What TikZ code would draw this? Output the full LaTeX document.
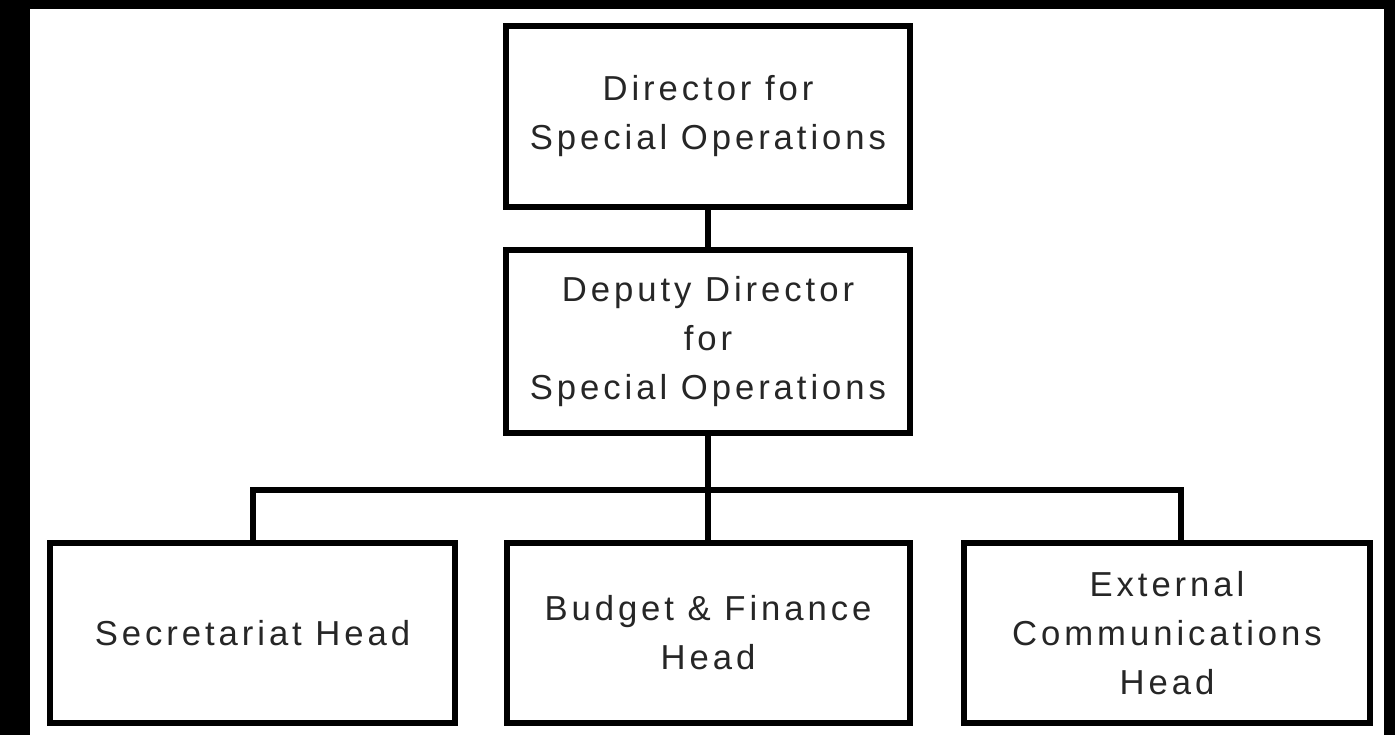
\documentclass[tikz,border=0pt]{standalone}
\usepackage{fontspec}
\setmainfont{Liberation Sans}[LetterSpace=11.4]
\begin{document}
\begin{tikzpicture}[x=0.75pt,y=-0.75pt,
  box/.style={draw=black,line width=4.5pt,rectangle,inner sep=2pt,align=center,
    text=black!85,font=\fontsize{26}{36.75}\selectfont},
  link/.style={draw=black,line width=4.5pt,line join=miter}]
\useasboundingbox (0,0) rectangle (1395,735);
\fill[black] (0,0) rectangle (1395,735);
\fill[white] (30,9) rectangle (1384,735);
\node[box,minimum width=303pt,minimum height=135pt] (dir) at (708,116.5) {Director for\\Special Operations};
\node[box,minimum width=303pt,minimum height=137.25pt] (dep) at (708,341.5) {Deputy Director\\for\\Special Operations};
\node[box,minimum width=303.75pt,minimum height=135pt] (sec) at (252.5,633) {Secretariat Head};
\node[box,minimum width=302.25pt,minimum height=135pt] (bud) at (708,633) {Budget \& Finance\\Head};
\node[box,minimum width=304.5pt,minimum height=135pt] (ext) at (1167,633) {External\\Communications\\Head};
\coordinate (rj) at (1181,490);
\coordinate (rtop) at ([xshift=10.5pt]ext.north);
\draw[link] (dir.south) -- (dep.north);
\draw[link] (dep.south) -- (bud.north);
\draw[link] (sec.north) |- (rj) -- (rtop);
\end{tikzpicture}
\end{document}
